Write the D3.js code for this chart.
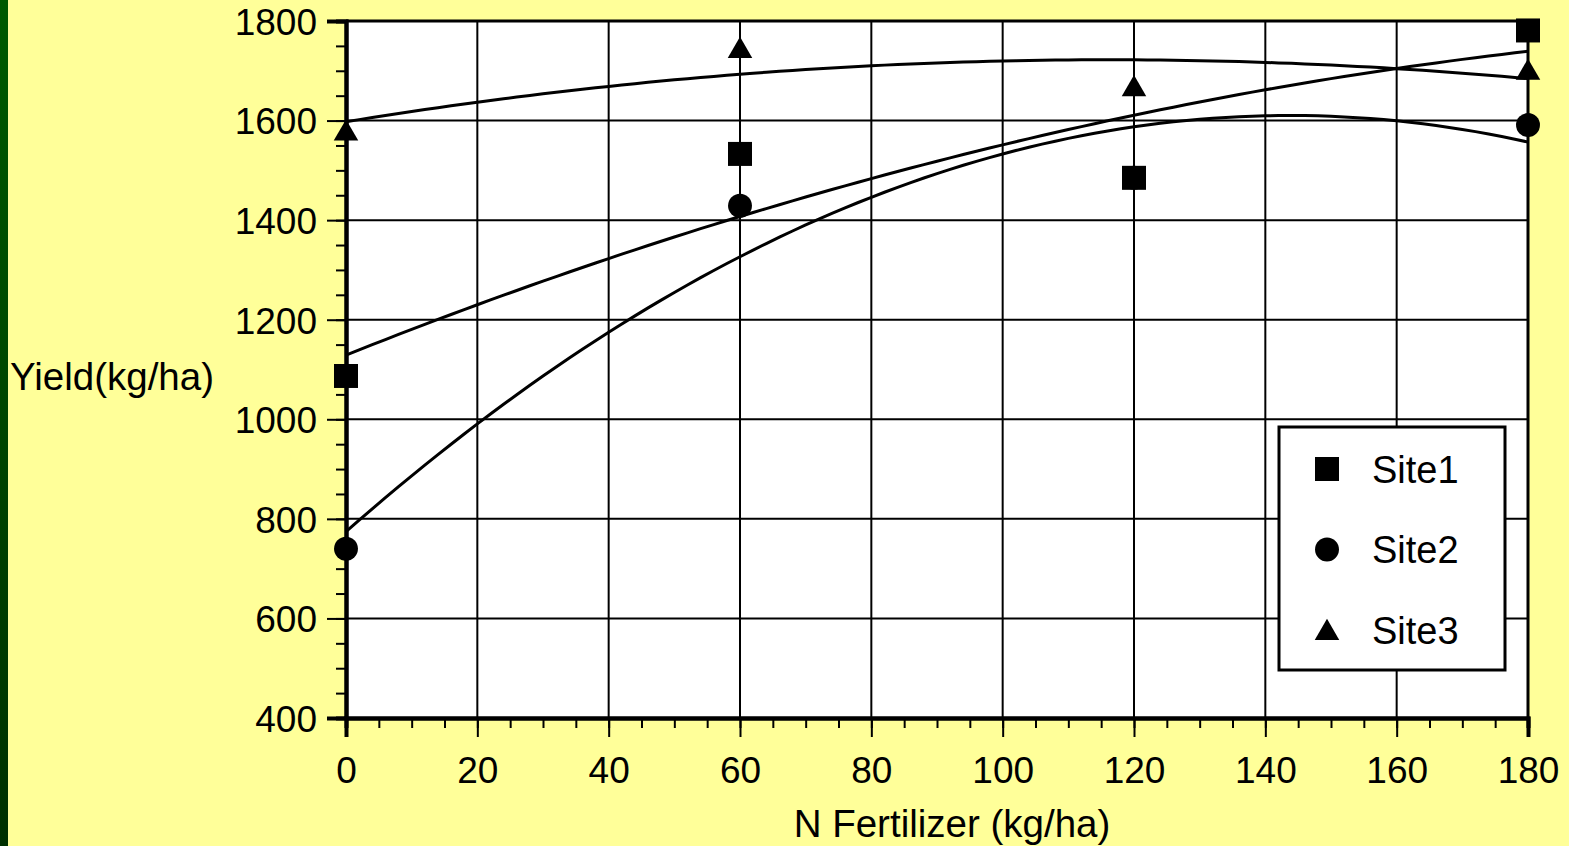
<!DOCTYPE html>
<html>
<head>
<meta charset="utf-8">
<script src="https://cdn.jsdelivr.net/npm/d3@7"></script>
<style>
  html, body { margin: 0; padding: 0; background: #ffff99; }
  svg { display: block; font-family: "Liberation Sans", Arial, sans-serif; }
</style>
</head>
<body>
<svg id="chart" width="1569" height="846"></svg>
<script>
// N rates (kg/ha) and yields per site
var nRates = [0, 60, 120, 180];
var site1 = [1087, 1533, 1485, 1781];
var site2 = [740, 1429, 1485, 1591];
var site3 = [1580, 1746, 1669, 1702];
var siteNames = ["Site1", "Site2", "Site3"];
var xTicks = [0, 20, 40, 60, 80, 100, 120, 140, 160, 180];
var yTicks = [400, 600, 800, 1000, 1200, 1400, 1600, 1800];

var svg = d3.select("#chart"),
    width = 1569,
    height = 846,
    margin = {left: 346, right: 41, top: 21, bottom: 128};

// dark green strip on the left
var grad = svg.append("defs").append("linearGradient")
    .attr("id", "strip").attr("x1", 0).attr("y1", 0).attr("x2", 0).attr("y2", 1);
grad.append("stop").attr("offset", "0%").attr("stop-color", "#005a00");
grad.append("stop").attr("offset", "100%").attr("stop-color", "#003000");

svg.append("rect").attr("width", width).attr("height", height).attr("fill", "#ffff99");
svg.append("rect").attr("width", 8).attr("height", height).attr("fill", "url(#strip)");

var x = d3.scaleLinear().domain([0, 180]).range([margin.left, width - margin.right]);
var y = d3.scaleLinear().domain([400, 1800]).range([height - margin.bottom, margin.top]);

// plot background
svg.append("rect")
    .attr("x", x(0)).attr("y", y(1800))
    .attr("width", x(180) - x(0)).attr("height", y(400) - y(1800))
    .attr("fill", "#fff");

// grid
svg.append("g").selectAll("line")
    .data(xTicks.slice(1))
    .enter().append("line")
    .attr("x1", function(d) { return x(d); }).attr("x2", function(d) { return x(d); })
    .attr("y1", y(400)).attr("y2", y(1800))
    .attr("stroke", "#000").attr("stroke-width", 2);

svg.append("g").selectAll("line")
    .data(yTicks.slice(1))
    .enter().append("line")
    .attr("x1", x(0)).attr("x2", x(180))
    .attr("y1", function(d) { return y(d); }).attr("y2", function(d) { return y(d); })
    .attr("stroke", "#000").attr("stroke-width", 2);

// frame top and right
svg.append("path")
    .attr("d", "M" + x(0) + "," + y(1800) + "H" + x(180) + "V" + y(400))
    .attr("fill", "none").attr("stroke", "#000").attr("stroke-width", 3);

// least squares quadratic fit
function quadFit(xs, ys) {
  var s = [0, 0, 0, 0, 0], t = [0, 0, 0];
  xs.forEach(function(xi, i) {
    for (var k = 0; k < 5; k++) s[k] += Math.pow(xi, k);
    for (var k2 = 0; k2 < 3; k2++) t[k2] += Math.pow(xi, k2) * ys[i];
  });
  var m = [[s[0], s[1], s[2], t[0]], [s[1], s[2], s[3], t[1]], [s[2], s[3], s[4], t[2]]];
  for (var c = 0; c < 3; c++) {
    for (var r = c + 1; r < 3; r++) {
      var f = m[r][c] / m[c][c];
      for (var j = c; j < 4; j++) m[r][j] -= f * m[c][j];
    }
  }
  var coef = [0, 0, 0];
  for (var r2 = 2; r2 >= 0; r2--) {
    var v = m[r2][3];
    for (var j2 = r2 + 1; j2 < 3; j2++) v -= m[r2][j2] * coef[j2];
    coef[r2] = v / m[r2][r2];
  }
  return function(xv) { return coef[0] + coef[1] * xv + coef[2] * xv * xv; };
}

var sites = [site1, site2, site3];
var line = d3.line()
    .x(function(d) { return x(d[0]); })
    .y(function(d) { return y(d[1]); });

sites.forEach(function(vals) {
  var fit = quadFit(nRates, vals);
  var pts = d3.range(0, 180.5, 2).map(function(v) { return [v, fit(v)]; });
  svg.append("path")
      .attr("d", line(pts))
      .attr("fill", "none").attr("stroke", "#000").attr("stroke-width", 3);
});

// axes
var yAxis = svg.append("g").attr("transform", "translate(" + x(0) + ",0)")
    .call(d3.axisLeft(y).tickValues(yTicks).tickSize(19).tickPadding(10).tickFormat(d3.format("d")));
var yMinor = svg.append("g").attr("transform", "translate(" + x(0) + ",0)")
    .call(d3.axisLeft(y).tickValues(d3.range(400, 1801, 50)).tickSize(10).tickFormat(""));
var xAxis = svg.append("g").attr("transform", "translate(0," + y(400) + ")")
    .call(d3.axisBottom(x).tickValues(xTicks).tickSize(19).tickFormat(d3.format("d")));
var xMinor = svg.append("g").attr("transform", "translate(0," + y(400) + ")")
    .call(d3.axisBottom(x).tickValues(d3.range(0, 181, 5)).tickSize(10).tickFormat(""));

[yAxis, yMinor, xAxis, xMinor].forEach(function(a) {
  a.selectAll(".domain").attr("stroke", "#000").attr("stroke-width", 4);
  a.selectAll(".tick line").attr("stroke", "#000").attr("stroke-width", 2);
  a.selectAll("text").attr("fill", "#000").attr("font-size", 37)
      .attr("font-family", "'Liberation Sans', Arial, sans-serif");
});
yAxis.selectAll("text").attr("dy", "0.36em");
xAxis.selectAll("text").attr("y", 65).attr("dy", 0);

// axis titles
svg.append("text")
    .attr("x", 10).attr("y", 390)
    .attr("font-size", 38.5).attr("fill", "#000")
    .text("Yield(kg/ha)");
svg.append("text")
    .attr("x", 952).attr("y", 837)
    .attr("text-anchor", "middle")
    .attr("font-size", 38.5).attr("fill", "#000")
    .text("N Fertilizer (kg/ha)");

// markers
var sq = d3.symbol().type(d3.symbolSquare).size(576);
var ci = d3.symbol().type(d3.symbolCircle).size(450);
var tr = d3.symbol().type(d3.symbolTriangle).size(260);
var shapes = [sq, ci, tr];
var drawOrder = [1, 2, 0];

drawOrder.forEach(function(si) {
  svg.append("g").selectAll("path")
      .data(sites[si])
      .enter().append("path")
      .attr("transform", function(d, i) {
        var dy = si === 2 ? 3 : 0;
        return "translate(" + x(nRates[i]) + "," + (y(d) + dy) + ")";
      })
      .attr("d", shapes[si])
      .attr("fill", "#000");
});

// legend
var lg = svg.append("g");
lg.append("rect")
    .attr("x", 1279).attr("y", 427).attr("width", 226).attr("height", 243)
    .attr("fill", "#fff").attr("stroke", "#000").attr("stroke-width", 3);

var item = lg.selectAll("g.item")
    .data(siteNames)
    .enter().append("g")
    .attr("class", "item")
    .attr("transform", function(d, i) { return "translate(1327," + (469 + i * 80.5) + ")"; });

item.append("path")
    .attr("d", function(d, i) { return shapes[i](); })
    .attr("transform", function(d, i) { return i === 2 ? "translate(0,3)" : null; })
    .attr("fill", "#000");

item.append("text")
    .attr("x", 45).attr("dy", "0.36em")
    .attr("font-size", 38).attr("fill", "#000")
    .text(function(d) { return d; });
</script>
</body>
</html>
